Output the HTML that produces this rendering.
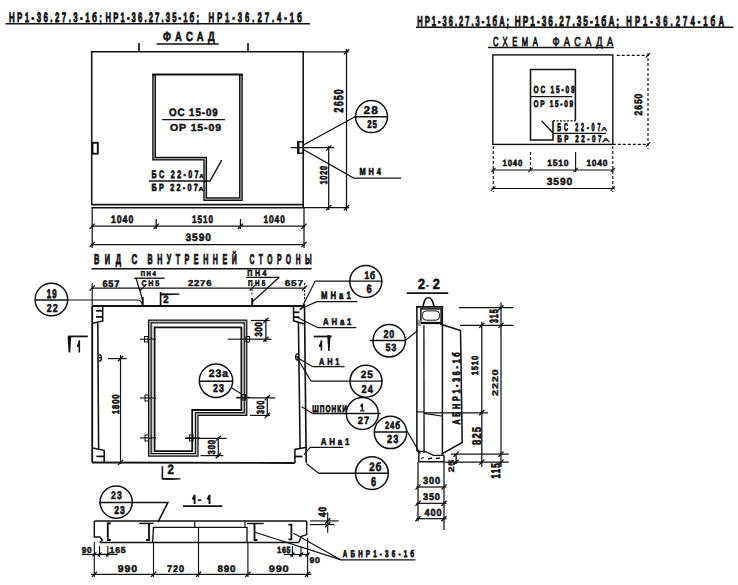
<!DOCTYPE html>
<html><head><meta charset="utf-8"><style>
html,body{margin:0;padding:0;background:#fff;}
svg{display:block;}
svg text{text-rendering:geometricPrecision;font-family:"Liberation Sans",sans-serif;fill:#111;stroke:#111;stroke-width:0.4px;}
</style></head><body>
<svg width="738" height="585" viewBox="0 0 738 585">
<g fill="none" stroke="#111" stroke-linecap="butt" stroke-linejoin="miter">
<text style="stroke-width:0.86px" transform="translate(8.9,21.5) scale(0.585,1)" font-size="13.55" textLength="159.1" lengthAdjust="spacing" font-weight="bold">НР1-36.27.3-1б;</text>
<text style="stroke-width:0.88px" transform="translate(105.6,21.5) scale(0.566,1)" font-size="13.55" textLength="165.1" lengthAdjust="spacing" font-weight="bold">НР1-36.27.35-1б;</text>
<text style="stroke-width:0.87px" transform="translate(208.4,21.5) scale(0.577,1)" font-size="13.55" textLength="162.0" lengthAdjust="spacing" font-weight="bold">НР1-36.27.4-1б</text>
<polyline points="5.5,23.8 310.0,23.8" stroke-width="1.55"/>
<text style="stroke-width:0.71px" transform="translate(163.0,41.0) scale(0.708,1)" font-size="13.27" textLength="73.2" lengthAdjust="spacing" font-weight="bold">ФАСАД</text>
<polyline points="156.6,44.0 218.6,44.0" stroke-width="1.65"/>
<polyline points="91.7,205.0 91.7,51.8 303.2,51.8 303.2,207.8" stroke-width="1.55"/>
<polyline points="91.7,204.6 303.2,204.6" stroke-width="1.55"/>
<polyline points="91.7,207.8 303.2,207.8" stroke-width="1.55"/>
<polyline points="139.0,43.0 139.0,52.0" stroke-width="1.65"/>
<polyline points="248.0,43.0 248.0,52.0" stroke-width="1.65"/>
<polyline points="154.1,74.5 154.1,158.7 205.2,158.7 205.2,199.2 240.9,199.2 240.9,74.5" stroke-width="3.8"/>
<polyline points="154.1,75.5 154.1,158.7 205.2,158.7 205.2,199.2 240.9,199.2 240.9,75.5" stroke-width="1.3" stroke="#999"/>
<polyline points="152.2,74.5 242.8,74.5" stroke-width="1.80"/>
<rect x="92.5" y="142.8" width="5.3" height="10.9" stroke-width="1.9"/>
<rect x="297.8" y="141.8" width="5.4" height="11.4" stroke-width="1.4"/>
<polyline points="298.3,142.0 298.3,153.0" stroke-width="2.35"/>
<polyline points="290.6,147.6 334.0,147.6" stroke-width="1.45"/>
<text style="stroke-width:0.55px" transform="translate(169.0,116.0) scale(0.906,1)" font-size="10.75" textLength="53.8" lengthAdjust="spacing" font-weight="bold">ОС 15-09</text>
<polyline points="162.0,119.6 225.0,119.6" stroke-width="1.45"/>
<text style="stroke-width:0.49px" transform="translate(170.0,130.6) scale(1.028,1)" font-size="10.20" textLength="49.6" lengthAdjust="spacing" font-weight="bold">ОР 15-09</text>
<text style="stroke-width:0.76px" transform="translate(151.5,178.4) scale(0.661,1)" font-size="10.89" textLength="71.2" lengthAdjust="spacing" font-weight="bold">БС 22-07</text>
<text style="stroke-width:0.50px" transform="translate(199.2,178.4) scale(0.991,1)" font-size="6.01" textLength="4.3" lengthAdjust="spacing" font-weight="bold">А</text>
<polyline points="148.9,181.0 210.0,181.0 221.7,160.1" stroke-width="1.35"/>
<text style="stroke-width:0.71px" transform="translate(151.5,191.0) scale(0.705,1)" font-size="10.34" textLength="65.7" lengthAdjust="spacing" font-weight="bold">БР 22-07</text>
<text style="stroke-width:0.43px" transform="translate(198.5,191.0) scale(1.153,1)" font-size="6.01" textLength="4.3" lengthAdjust="spacing" font-weight="bold">А</text>
<polyline points="303.0,51.8 348.5,51.8" stroke-width="1.25"/>
<polyline points="346.5,49.0 346.5,211.0" stroke-width="1.25"/>
<polyline points="303.0,207.6 349.0,207.6" stroke-width="1.25"/>
<text style="stroke-width:0.72px" transform="translate(343.0,112.4) rotate(-90) scale(0.696,1)" font-size="12.85" textLength="33.3" lengthAdjust="spacing" font-weight="bold">2650</text>
<polyline points="328.7,146.0 328.7,210.0" stroke-width="1.25"/>
<text style="stroke-width:0.70px" transform="translate(326.7,184.6) rotate(-90) scale(0.716,1)" font-size="10.06" textLength="26.0" lengthAdjust="spacing" font-weight="bold">1020</text>
<circle cx="371.5" cy="116.6" r="16" stroke-width="1.5"/>
<polyline points="355.4,116.8 387.6,116.8" stroke-width="1.55"/>
<text style="stroke-width:0.47px" transform="translate(363.6,114.2) scale(1.059,1)" font-size="11.31" textLength="13.5" lengthAdjust="spacing" font-weight="bold">28</text>
<text style="stroke-width:0.71px" transform="translate(367.2,127.9) scale(0.702,1)" font-size="11.31" textLength="14.0" lengthAdjust="spacing" font-weight="bold">25</text>
<polyline points="303.0,145.2 355.4,116.5" stroke-width="1.25"/>
<polyline points="303.0,149.3 353.7,178.0 401.0,178.0" stroke-width="1.25"/>
<text style="stroke-width:0.67px" transform="translate(359.5,175.4) scale(0.741,1)" font-size="10.06" textLength="29.0" lengthAdjust="spacing" font-weight="bold">МН4</text>
<polyline points="91.5,226.2 305.0,226.2" stroke-width="1.25"/>
<polyline points="91.5,244.5 305.0,244.5" stroke-width="1.25"/>
<polyline points="92.2,207.0 92.2,248.0" stroke-width="1.25"/>
<polyline points="304.0,207.0 304.0,248.0" stroke-width="1.25"/>
<polyline points="156.2,219.0 156.2,229.0" stroke-width="1.25"/>
<polyline points="240.5,219.0 240.5,229.0" stroke-width="1.25"/>
<text style="stroke-width:0.62px" transform="translate(111.0,223.3) scale(0.804,1)" font-size="10.89" textLength="27.7" lengthAdjust="spacing" font-weight="bold">1040</text>
<text style="stroke-width:0.67px" transform="translate(192.0,223.3) scale(0.751,1)" font-size="10.89" textLength="28.0" lengthAdjust="spacing" font-weight="bold">1510</text>
<text style="stroke-width:0.66px" transform="translate(263.5,223.3) scale(0.763,1)" font-size="10.89" textLength="27.9" lengthAdjust="spacing" font-weight="bold">1040</text>
<text style="stroke-width:0.53px" transform="translate(185.5,241.0) scale(0.936,1)" font-size="10.89" textLength="27.2" lengthAdjust="spacing" font-weight="bold">3590</text>
<text style="stroke-width:0.90px" transform="translate(417.3,25.5) scale(0.525,1)" font-size="14.25" textLength="174.8" lengthAdjust="spacing" font-weight="bold">НР1-36.27.3-1бА;</text>
<text style="stroke-width:0.87px" transform="translate(514.8,25.5) scale(0.576,1)" font-size="14.25" textLength="181.1" lengthAdjust="spacing" font-weight="bold">НР1-36.27.35-1бА;</text>
<text style="stroke-width:0.90px" transform="translate(626.3,25.5) scale(0.537,1)" font-size="14.25" textLength="181.8" lengthAdjust="spacing" font-weight="bold">НР1-36.274-1бА</text>
<polyline points="416.0,27.3 733.4,27.3" stroke-width="1.55"/>
<text style="stroke-width:0.85px" transform="translate(492.9,45.6) scale(0.589,1)" font-size="12.85" textLength="76.2" lengthAdjust="spacing" font-weight="normal">СХЕМА</text>
<text style="stroke-width:0.70px" transform="translate(552.4,45.6) scale(0.713,1)" font-size="12.85" textLength="85.3" lengthAdjust="spacing" font-weight="normal">ФАСАДА</text>
<polyline points="488.0,47.4 613.7,47.4" stroke-width="1.55"/>
<rect x="492.8" y="54.9" width="120.0" height="89.5" stroke-width="1.4"/>
<polyline points="553.0,120.8 575.4,120.8" stroke-width="1.15" stroke-dasharray="2,1.5"/>
<polyline points="575.4,120.8 575.4,69.5 530.5,69.5 530.5,140.0 553.0,140.0 553.0,120.8" stroke-width="1.55"/>
<text style="stroke-width:0.80px" transform="translate(533.5,93.0) scale(0.628,1)" font-size="10.34" textLength="65.4" lengthAdjust="spacing" font-weight="bold">ОС 15-09</text>
<polyline points="530.5,96.5 572.3,96.5" stroke-width="1.25"/>
<text style="stroke-width:0.74px" transform="translate(533.5,107.0) scale(0.679,1)" font-size="9.50" textLength="58.2" lengthAdjust="spacing" font-weight="bold">ОР 15-09</text>
<text style="stroke-width:0.90px" transform="translate(557.3,131.3) scale(0.473,1)" font-size="11.45" textLength="91.3" lengthAdjust="spacing" font-weight="bold">БС 22-07</text>
<text style="stroke-width:0.33px" transform="translate(601.2,131.3) scale(1.518,1)" font-size="5.73" textLength="3.8" lengthAdjust="spacing" font-weight="normal">А</text>
<polyline points="553.2,133.3 606.0,133.3" stroke-width="1.25"/>
<text style="stroke-width:0.78px" transform="translate(557.3,141.9) scale(0.640,1)" font-size="9.92" textLength="69.0" lengthAdjust="spacing" font-weight="bold">БР 22-07</text>
<text style="stroke-width:0.30px" transform="translate(602.2,141.9) scale(1.959,1)" font-size="5.59" textLength="3.7" lengthAdjust="spacing" font-weight="normal">А</text>
<polyline points="541.5,120.8 552.3,132.3" stroke-width="1.25"/>
<polyline points="616.7,55.3 649.0,55.3" stroke-width="1.15" stroke-dasharray="3,2"/>
<polyline points="648.0,53.0 648.0,149.0" stroke-width="1.15" stroke-dasharray="3,2"/>
<polyline points="612.8,144.4 649.0,144.4" stroke-width="1.15" stroke-dasharray="3,2"/>
<text style="stroke-width:0.63px" transform="translate(641.5,115.4) rotate(-90) scale(0.795,1)" font-size="10.75" textLength="27.4" lengthAdjust="spacing" font-weight="bold">2650</text>
<polyline points="491.5,170.0 614.6,170.0" stroke-width="1.15"/>
<polyline points="491.5,188.5 614.6,188.5" stroke-width="1.15"/>
<polyline points="493.3,146.0 493.3,192.0" stroke-width="1.15" stroke-dasharray="3,2"/>
<polyline points="612.8,146.0 612.8,192.0" stroke-width="1.15" stroke-dasharray="3,2"/>
<polyline points="530.5,152.0 530.5,172.0" stroke-width="1.15" stroke-dasharray="3,2"/>
<polyline points="575.6,152.0 575.6,172.0" stroke-width="1.15"/>
<text style="stroke-width:0.57px" transform="translate(502.6,165.6) scale(0.875,1)" font-size="8.94" textLength="22.5" lengthAdjust="spacing" font-weight="bold">1040</text>
<text style="stroke-width:0.52px" transform="translate(547.2,165.6) scale(0.955,1)" font-size="8.94" textLength="22.3" lengthAdjust="spacing" font-weight="bold">1510</text>
<text style="stroke-width:0.53px" transform="translate(586.4,165.6) scale(0.940,1)" font-size="8.94" textLength="22.3" lengthAdjust="spacing" font-weight="bold">1040</text>
<text style="stroke-width:0.50px" transform="translate(546.7,185.0) scale(0.998,1)" font-size="10.34" textLength="25.7" lengthAdjust="spacing" font-weight="bold">3590</text>
<text style="stroke-width:0.90px" transform="translate(94.0,263.5) scale(0.523,1)" font-size="14.11" textLength="51.6" lengthAdjust="spacing" font-weight="bold">ВИД</text>
<text style="stroke-width:0.89px" transform="translate(131.5,263.5) scale(0.560,1)" font-size="14.11" textLength="10.2" lengthAdjust="spacing" font-weight="bold">С</text>
<text style="stroke-width:0.90px" transform="translate(147.5,263.5) scale(0.502,1)" font-size="14.11" textLength="177.9" lengthAdjust="spacing" font-weight="bold">ВНУТРЕННЕЙ</text>
<text style="stroke-width:0.90px" transform="translate(249.4,263.5) scale(0.477,1)" font-size="14.11" textLength="130.5" lengthAdjust="spacing" font-weight="bold">СТОРОНЫ</text>
<polyline points="91.5,268.7 311.6,268.7" stroke-width="1.65"/>
<polyline points="91.5,288.0 305.5,288.0" stroke-width="1.25"/>
<polyline points="92.2,283.0 92.2,306.0" stroke-width="1.15"/>
<polyline points="304.6,283.0 304.6,306.0" stroke-width="1.15" stroke-dasharray="2,1.5"/>
<text style="stroke-width:0.51px" transform="translate(102.4,286.8) scale(0.976,1)" font-size="9.50" textLength="17.5" lengthAdjust="spacing" font-weight="bold">657</text>
<text style="stroke-width:0.44px" transform="translate(188.0,285.8) scale(1.124,1)" font-size="8.52" textLength="20.9" lengthAdjust="spacing" font-weight="bold">2276</text>
<text style="stroke-width:0.42px" transform="translate(284.7,285.8) scale(1.184,1)" font-size="8.52" textLength="15.5" lengthAdjust="spacing" font-weight="bold">657</text>
<text style="stroke-width:0.58px" transform="translate(140.8,275.8) scale(0.860,1)" font-size="6.98" textLength="17.4" lengthAdjust="spacing" font-weight="bold">ПН4</text>
<polyline points="134.2,278.2 164.6,278.2" stroke-width="1.35"/>
<text style="stroke-width:0.57px" transform="translate(141.5,285.8) scale(0.877,1)" font-size="8.10" textLength="20.2" lengthAdjust="spacing" font-weight="bold">СН5</text>
<polyline points="136.0,278.2 142.7,300.0" stroke-width="1.25"/>
<polyline points="142.7,297.0 142.7,306.0" stroke-width="1.95"/>
<text style="stroke-width:0.62px" transform="translate(247.3,276.3) scale(0.806,1)" font-size="8.80" textLength="23.8" lengthAdjust="spacing" font-weight="bold">ПН4</text>
<polyline points="246.2,277.3 279.2,277.3" stroke-width="1.35"/>
<text style="stroke-width:0.64px" transform="translate(248.1,285.8) scale(0.783,1)" font-size="8.10" textLength="22.1" lengthAdjust="spacing" font-weight="bold">ПН5</text>
<polyline points="279.2,277.3 252.7,301.5" stroke-width="1.25"/>
<polyline points="252.2,298.0 252.2,306.0" stroke-width="1.95"/>
<polyline points="252.0,289.0 252.0,295.0" stroke-width="0.95" stroke-dasharray="2,1.5"/>
<circle cx="51.4" cy="299.5" r="16.3" stroke-width="1.5"/>
<polyline points="35.0,300.0 67.7,300.0" stroke-width="1.55"/>
<text style="stroke-width:0.78px" transform="translate(46.8,298.1) scale(0.639,1)" font-size="12.43" textLength="15.5" lengthAdjust="spacing" font-weight="bold">19</text>
<text style="stroke-width:0.64px" transform="translate(46.8,311.5) scale(0.778,1)" font-size="11.45" textLength="14.0" lengthAdjust="spacing" font-weight="bold">22</text>
<path d="M67.7,300 L137,300 Q141,300 142.7,304.6" stroke-width="1.1"/>
<polyline points="160.6,306.0 160.6,292.0" stroke-width="1.65"/>
<polygon points="160.6,293.2 179.5,293.6 179.5,294.8 160.6,295.4" fill="#111" stroke="none"/>
<text style="stroke-width:0.55px" transform="translate(163.3,303.4) scale(0.915,1)" font-size="10.61" textLength="5.9" lengthAdjust="spacing" font-weight="bold">2</text>
<polyline points="92.2,306.0 305.0,306.0" stroke-width="1.95"/>
<polyline points="92.2,306.0 92.2,462.3" stroke-width="1.85"/>
<polyline points="92.2,462.5 295.0,463.0" stroke-width="1.85"/>
<polyline points="304.5,306.0 306.2,462.7" stroke-width="1.65"/>
<polyline points="97.8,322.5 98.6,448.7" stroke-width="1.55"/>
<polyline points="298.4,322.0 300.1,448.0" stroke-width="1.55"/>
<polyline points="92.7,323.3 102.7,321.0 102.7,306.0" stroke-width="1.55"/>
<polyline points="96.0,310.8 102.7,310.8" stroke-width="1.75"/>
<polyline points="96.0,316.9 102.7,316.9" stroke-width="1.75"/>
<polyline points="92.7,448.0 104.2,450.3 104.2,462.3" stroke-width="1.55"/>
<polyline points="96.3,456.4 104.2,456.4" stroke-width="1.65"/>
<polyline points="293.6,306.0 293.6,320.8 304.6,323.9" stroke-width="1.55"/>
<polyline points="293.6,312.3 299.4,312.3" stroke-width="1.75"/>
<polyline points="293.6,317.1 299.4,317.1" stroke-width="1.75"/>
<polyline points="294.9,463.0 294.9,449.4 306.8,447.3" stroke-width="1.55"/>
<polyline points="294.9,456.5 302.5,456.5" stroke-width="1.75"/>
<path d="M98.8,354.6 C102.3,354.6 102.3,361.2 98.8,361.2 M98.8,357.9 L101.5,357.9" stroke-width="1.3"/>
<path d="M298.6,353.6 C294.6,353.6 294.6,360.2 298.6,360.2 M298.6,356.9 L295.6,356.9" stroke-width="1.3"/>
<polyline points="68.1,336.4 87.8,336.4" stroke-width="1.75"/>
<polygon points="67.6,336.4 71.2,336.4 70.3,352.5 68.6,352.5" fill="#111" stroke="none"/>
<path d="M79.3,340.2 L79.3,352.5 M79.3,341.5 L77.3,347" stroke-width="1.6"/>
<polyline points="313.7,336.5 331.6,336.5" stroke-width="1.75"/>
<polygon points="327.2,335.2 330.6,335.2 329.6,351 328.2,351" fill="#111" stroke="none"/>
<path d="M321.4,340.2 L321.4,350.7 M321.4,341.5 L319.4,347" stroke-width="1.6"/>
<polyline points="162.4,466.3 162.4,478.7 170.0,478.7" stroke-width="1.55"/>
<polygon points="162.4,478 180.5,478.3 180.5,479.6 170,479.9 162.4,479.5" fill="#111" stroke="none"/>
<text style="stroke-width:0.59px" transform="translate(167.6,474.2) scale(0.841,1)" font-size="13.69" textLength="7.6" lengthAdjust="spacing" font-weight="bold">2</text>
<path d="M149.9,321.5 L245.5,321.5 L245.5,414 L196.7,414 L196.7,454.8 L149.9,454.8 Z" stroke-width="3.8"/>
<path d="M149.9,321.5 L245.5,321.5 L245.5,414 L196.7,414 L196.7,454.8 L149.9,454.8 Z" stroke-width="1.4" stroke="#bbb"/>
<path d="M154.6,327.4 L241.4,327.4 L241.4,410 L192.2,410 L192.2,451.1 L154.6,451.1 Z" stroke-width="1.8"/>
<path d="M152.6,325 L152.6,453" stroke-width="1.2" stroke="#ccc"/>
<polyline points="140.0,339.2 156.0,339.2" stroke-width="1.15"/>
<rect x="144.5" y="336.5" width="3.5" height="5.5" stroke-width="1.0"/>
<polyline points="227.8,339.2 250.0,339.2" stroke-width="1.15"/>
<rect x="246" y="336.5" width="3.5" height="5.5" stroke-width="1.0"/>
<polyline points="140.0,398.0 156.0,398.0" stroke-width="1.15"/>
<rect x="145" y="395" width="3.5" height="6.0" stroke-width="1.0"/>
<polyline points="140.0,437.9 156.0,437.9" stroke-width="1.15"/>
<rect x="145" y="435" width="3.5" height="6.0" stroke-width="1.0"/>
<polyline points="185.8,437.9 200.0,437.9" stroke-width="1.15"/>
<rect x="189.5" y="435" width="3.5" height="6.0" stroke-width="1.0"/>
<polyline points="236.7,397.4 250.0,397.4" stroke-width="1.15"/>
<rect x="242" y="394.5" width="3.5" height="5.5" stroke-width="1.0"/>
<polyline points="108.0,358.6 126.7,358.6" stroke-width="1.15"/>
<polyline points="120.5,355.0 120.5,464.0" stroke-width="1.15"/>
<text style="stroke-width:0.63px" transform="translate(118.5,414.0) rotate(-90) scale(0.790,1)" font-size="9.78" textLength="24.9" lengthAdjust="spacing" font-weight="bold">1800</text>
<polyline points="250.9,320.5 269.8,320.5" stroke-width="1.25"/>
<polyline points="250.0,339.2 271.5,339.2" stroke-width="1.25"/>
<polyline points="265.9,318.5 265.9,342.0" stroke-width="1.25"/>
<text style="stroke-width:0.67px" transform="translate(262.2,336.6) rotate(-90) scale(0.744,1)" font-size="10.20" textLength="19.4" lengthAdjust="spacing" font-weight="bold">300</text>
<polyline points="236.1,397.8 275.4,397.8" stroke-width="1.25"/>
<polyline points="250.0,415.4 270.0,415.4" stroke-width="1.25"/>
<polyline points="267.3,396.4 267.3,416.5" stroke-width="1.25"/>
<text style="stroke-width:0.74px" transform="translate(263.5,414.0) rotate(-90) scale(0.680,1)" font-size="10.34" textLength="19.9" lengthAdjust="spacing" font-weight="bold">300</text>
<polyline points="185.0,438.3 226.7,438.3" stroke-width="1.25"/>
<polyline points="200.6,455.6 223.3,455.6" stroke-width="1.25"/>
<polyline points="218.3,437.2 218.3,457.2" stroke-width="1.25"/>
<text style="stroke-width:0.66px" transform="translate(215.0,454.4) rotate(-90) scale(0.755,1)" font-size="10.06" textLength="19.1" lengthAdjust="spacing" font-weight="bold">300</text>
<circle cx="216" cy="380.8" r="16.7" stroke-width="1.5"/>
<polyline points="199.3,381.3 232.7,381.3" stroke-width="1.55"/>
<text style="stroke-width:0.52px" transform="translate(208.7,377.4) scale(0.964,1)" font-size="10.89" textLength="20.1" lengthAdjust="spacing" font-weight="bold">23а</text>
<text style="stroke-width:0.64px" transform="translate(213.1,392.1) scale(0.778,1)" font-size="11.45" textLength="14.0" lengthAdjust="spacing" font-weight="bold">23</text>
<polyline points="231.9,388.0 242.4,394.6" stroke-width="1.15"/>
<circle cx="365.8" cy="281.4" r="16" stroke-width="1.5"/>
<polyline points="315.3,281.1 382.6,281.1" stroke-width="1.25"/>
<polyline points="315.3,281.1 300.5,310.3" stroke-width="1.15"/>
<text style="stroke-width:0.65px" transform="translate(364.5,278.6) scale(0.764,1)" font-size="10.89" textLength="14.0" lengthAdjust="spacing" font-weight="bold">1б</text>
<text style="stroke-width:0.65px" transform="translate(366.4,292.5) scale(0.769,1)" font-size="12.15" textLength="6.8" lengthAdjust="spacing" font-weight="bold">6</text>
<text style="stroke-width:0.68px" transform="translate(321.0,298.6) scale(0.730,1)" font-size="10.61" textLength="40.8" lengthAdjust="spacing" font-weight="bold">МНа1</text>
<polyline points="317.0,301.6 357.5,301.6" stroke-width="1.25"/>
<polyline points="317.0,301.6 299.5,309.2" stroke-width="1.15"/>
<text style="stroke-width:0.62px" transform="translate(323.0,325.2) scale(0.800,1)" font-size="9.78" textLength="35.5" lengthAdjust="spacing" font-weight="bold">АНа1</text>
<polyline points="318.0,327.7 356.3,327.7" stroke-width="1.25"/>
<polyline points="318.0,327.7 297.4,317.4" stroke-width="1.15"/>
<text style="stroke-width:0.66px" transform="translate(319.0,364.6) scale(0.762,1)" font-size="9.78" textLength="26.9" lengthAdjust="spacing" font-weight="bold">АН1</text>
<polyline points="312.8,366.7 344.6,366.7" stroke-width="1.25"/>
<polyline points="312.8,366.7 297.0,357.4" stroke-width="1.15"/>
<circle cx="389.2" cy="340.7" r="16.2" stroke-width="1.5"/>
<polyline points="369.7,340.4 405.6,340.4" stroke-width="1.55"/>
<polyline points="405.6,340.3 417.7,330.5" stroke-width="1.15"/>
<text style="stroke-width:0.64px" transform="translate(383.4,338.1) scale(0.778,1)" font-size="11.45" textLength="14.0" lengthAdjust="spacing" font-weight="bold">20</text>
<text style="stroke-width:0.58px" transform="translate(385.4,351.1) scale(0.858,1)" font-size="10.47" textLength="12.7" lengthAdjust="spacing" font-weight="bold">53</text>
<circle cx="366" cy="381.2" r="16" stroke-width="1.5"/>
<polyline points="311.0,381.1 382.7,381.1" stroke-width="1.25"/>
<polyline points="311.0,381.1 297.5,358.5" stroke-width="1.15"/>
<text style="stroke-width:0.52px" transform="translate(360.8,377.8) scale(0.953,1)" font-size="10.47" textLength="12.6" lengthAdjust="spacing" font-weight="bold">25</text>
<text style="stroke-width:0.62px" transform="translate(361.6,392.8) scale(0.802,1)" font-size="11.45" textLength="14.0" lengthAdjust="spacing" font-weight="bold">24</text>
<circle cx="362.3" cy="413.5" r="16" stroke-width="1.5"/>
<polyline points="312.3,413.5 380.6,413.5" stroke-width="1.55"/>
<polyline points="312.3,413.2 301.6,406.7" stroke-width="1.15"/>
<text style="stroke-width:0.76px" transform="translate(312.3,411.5) scale(0.662,1)" font-size="9.78" textLength="52.4" lengthAdjust="spacing" font-weight="bold">ШПОНКИ</text>
<path d="M362.3,403.4 L362.3,410.1 M362.3,404 L360.6,406.5" stroke-width="1.6"/>
<polyline points="360.0,410.8 364.5,410.8" stroke-width="1.25"/>
<text style="stroke-width:0.56px" transform="translate(357.8,424.4) scale(0.893,1)" font-size="10.47" textLength="12.7" lengthAdjust="spacing" font-weight="bold">27</text>
<circle cx="390.5" cy="432.4" r="16.2" stroke-width="1.5"/>
<polyline points="374.3,432.0 406.7,432.0" stroke-width="1.55"/>
<polyline points="406.7,430.5 420.3,453.6" stroke-width="1.15"/>
<text style="stroke-width:0.70px" transform="translate(384.9,429.0) scale(0.718,1)" font-size="10.61" textLength="20.9" lengthAdjust="spacing" font-weight="bold">24б</text>
<text style="stroke-width:0.63px" transform="translate(387.1,443.3) scale(0.799,1)" font-size="11.59" textLength="14.1" lengthAdjust="spacing" font-weight="bold">23</text>
<text style="stroke-width:0.61px" transform="translate(320.7,445.0) scale(0.816,1)" font-size="9.78" textLength="35.3" lengthAdjust="spacing" font-weight="bold">АНа1</text>
<polyline points="310.0,447.4 343.5,447.4" stroke-width="1.25"/>
<polyline points="310.0,447.4 304.0,454.6" stroke-width="1.15"/>
<circle cx="371.9" cy="473.2" r="16.4" stroke-width="1.5"/>
<polyline points="318.3,473.3 388.3,473.3" stroke-width="1.55"/>
<polyline points="318.3,473.0 306.3,463.5" stroke-width="1.15"/>
<text style="stroke-width:0.63px" transform="translate(369.2,470.5) scale(0.789,1)" font-size="12.15" textLength="15.6" lengthAdjust="spacing" font-weight="bold">2б</text>
<text style="stroke-width:0.70px" transform="translate(370.9,485.5) scale(0.714,1)" font-size="12.85" textLength="7.1" lengthAdjust="spacing" font-weight="bold">6</text>
<text style="stroke-width:0.57px" transform="translate(417.9,288.6) scale(0.871,1)" font-size="14.66" textLength="8.2" lengthAdjust="spacing" font-weight="bold">2</text>
<text style="stroke-width:0.57px" transform="translate(432.8,288.6) scale(0.871,1)" font-size="14.66" textLength="8.2" lengthAdjust="spacing" font-weight="bold">2</text>
<polyline points="426.3,285.9 428.6,285.9" stroke-width="1.65"/>
<polyline points="406.8,293.1 448.2,293.1" stroke-width="1.65"/>
<path d="M423,306.3 C424.5,299.5 425.5,297.8 428.3,297.8 C431,297.8 432.3,299.5 434.1,306.3" stroke-width="1.6"/>
<polyline points="416.0,306.9 443.3,306.9" stroke-width="1.75"/>
<polyline points="416.9,306.9 416.9,451.3" stroke-width="1.55"/>
<polyline points="442.4,306.9 442.4,455.0" stroke-width="1.45"/>
<rect x="420.9" y="308.9" width="20.2" height="13.7" stroke-width="1.5"/>
<rect x="422.6" y="310.9" width="16.8" height="9.3" rx="3.5" stroke-width="1.0"/>
<polyline points="416.9,323.5 442.4,323.5" stroke-width="1.25"/>
<rect x="418" y="320" width="2.8" height="6" fill="#999" stroke="none"/>
<polyline points="440.2,323.9 460.5,330.5 462.2,442.5 441.8,453.9" stroke-width="1.55"/>
<polyline points="423.9,325.2 424.1,453.3" stroke-width="1.35"/>
<polyline points="416.9,411.9 424.0,411.9" stroke-width="1.15"/>
<polyline points="424.0,412.8 488.0,412.8" stroke-width="1.25"/>
<polyline points="424.0,413.4 443.1,416.3" stroke-width="1.15"/>
<polyline points="416.9,451.3 425.3,451.3 433.5,455.3 444.0,455.3" stroke-width="1.35"/>
<polyline points="418.8,451.3 418.8,461.8 444.0,461.8 444.0,455.3" stroke-width="1.45"/>
<path d="M421,458.5 L424,457.5 M428,459 L432,458 M436,458.5 L440,458" stroke-width="1.3"/>
<text style="stroke-width:0.77px" transform="translate(459.8,424.6) rotate(-90) scale(0.652,1)" font-size="10.89" textLength="110.9" lengthAdjust="spacing" font-weight="bold">АБНР1-36-1б</text>
<polyline points="458.9,307.7 513.3,307.7" stroke-width="1.25"/>
<polyline points="460.0,325.3 513.3,325.3" stroke-width="1.25"/>
<polyline points="501.0,302.6 501.0,467.0" stroke-width="1.25"/>
<polyline points="481.8,322.0 481.8,467.0" stroke-width="1.25"/>
<polyline points="450.8,454.2 508.8,454.2" stroke-width="1.25"/>
<polyline points="445.0,462.2 508.8,462.2" stroke-width="1.25"/>
<text style="stroke-width:0.85px" transform="translate(497.5,323.1) rotate(-90) scale(0.589,1)" font-size="11.87" textLength="23.3" lengthAdjust="spacing" font-weight="bold">315</text>
<text style="stroke-width:0.60px" transform="translate(478.4,375.3) rotate(-90) scale(0.840,1)" font-size="9.22" textLength="23.3" lengthAdjust="spacing" font-weight="bold">1510</text>
<text style="stroke-width:0.38px" transform="translate(498.4,395.9) rotate(-90) scale(1.311,1)" font-size="8.38" textLength="20.3" lengthAdjust="spacing" font-weight="bold">2220</text>
<text style="stroke-width:0.67px" transform="translate(480.7,444.9) rotate(-90) scale(0.750,1)" font-size="12.57" textLength="23.9" lengthAdjust="spacing" font-weight="bold">825</text>
<text style="stroke-width:0.79px" transform="translate(499.8,478.4) rotate(-90) scale(0.633,1)" font-size="12.57" textLength="23.7" lengthAdjust="spacing" font-weight="bold">115</text>
<text style="stroke-width:0.36px" transform="translate(453.8,472.4) rotate(-90) scale(1.391,1)" font-size="7.96" textLength="9.3" lengthAdjust="spacing" font-weight="bold">25</text>
<polyline points="456.1,455.0 456.1,464.0" stroke-width="1.35"/>
<polyline points="418.0,462.0 418.0,521.2" stroke-width="1.25"/>
<polyline points="444.0,462.0 444.0,530.0" stroke-width="1.25"/>
<polyline points="416.4,487.0 446.5,487.0" stroke-width="1.25"/>
<polyline points="416.4,503.3 446.5,503.3" stroke-width="1.25"/>
<polyline points="416.4,518.7 446.5,518.7" stroke-width="1.25"/>
<text style="stroke-width:0.55px" transform="translate(422.9,483.8) scale(0.902,1)" font-size="10.20" textLength="19.0" lengthAdjust="spacing" font-weight="bold">300</text>
<text style="stroke-width:0.53px" transform="translate(422.9,499.7) scale(0.945,1)" font-size="9.78" textLength="18.1" lengthAdjust="spacing" font-weight="bold">350</text>
<text style="stroke-width:0.55px" transform="translate(424.5,515.5) scale(0.902,1)" font-size="10.20" textLength="19.0" lengthAdjust="spacing" font-weight="bold">400</text>
<path d="M194.6,494.7 L194.6,503.9 M194.6,495.5 L192.6,499.5 M209.5,494.7 L209.5,503.9 M209.5,495.5 L207.5,499.5" stroke-width="1.9"/>
<polyline points="198.0,500.2 201.2,500.2" stroke-width="1.65"/>
<polyline points="183.0,506.1 222.3,506.1" stroke-width="1.65"/>
<circle cx="116.2" cy="502.2" r="16.1" stroke-width="1.5"/>
<polyline points="98.8,502.4 167.9,502.4 158.0,522.2" stroke-width="1.55"/>
<text style="stroke-width:0.64px" transform="translate(111.1,499.1) scale(0.786,1)" font-size="11.03" textLength="13.5" lengthAdjust="spacing" font-weight="bold">23</text>
<text style="stroke-width:0.66px" transform="translate(114.2,513.8) scale(0.755,1)" font-size="11.45" textLength="14.0" lengthAdjust="spacing" font-weight="bold">23</text>
<polyline points="94.3,520.9 306.7,520.9" stroke-width="1.55"/>
<polyline points="94.3,520.9 94.3,537.0 99.7,537.0 102.4,540.0 99.7,542.4" stroke-width="1.45"/>
<polyline points="99.7,542.4 299.0,542.4" stroke-width="1.55"/>
<polyline points="306.7,520.9 306.7,534.6 301.0,536.5 299.0,542.2" stroke-width="1.45"/>
<polyline points="157.1,527.3 244.0,527.3" stroke-width="1.35"/>
<polyline points="152.6,542.0 153.5,527.5 157.1,527.3" stroke-width="1.35"/>
<polyline points="247.0,542.0 247.0,527.3 244.0,527.3" stroke-width="1.35"/>
<polyline points="198.5,527.3 198.5,542.0" stroke-width="1.15"/>
<polyline points="194.8,521.0 194.8,527.3" stroke-width="1.15"/>
<polyline points="245.0,521.0 245.0,527.3" stroke-width="1.15"/>
<polyline points="110.8,523.2 107.8,523.2 107.8,540.0 110.8,540.0" stroke-width="1.85"/>
<polyline points="146.0,540.0 149.0,540.0 149.0,523.4" stroke-width="1.85"/>
<polyline points="139.2,523.4 153.5,523.4" stroke-width="1.45"/>
<polyline points="257.5,540.0 254.5,540.0 254.5,523.5" stroke-width="1.85"/>
<polyline points="247.0,523.5 263.7,523.5" stroke-width="1.45"/>
<polyline points="288.4,524.6 291.4,524.6 291.4,539.3 288.4,539.3" stroke-width="1.85"/>
<polyline points="255.0,532.2 341.1,559.9" stroke-width="1.15"/>
<polyline points="293.5,533.3 341.1,559.9" stroke-width="1.15"/>
<polyline points="341.1,559.9 415.4,559.9" stroke-width="1.25"/>
<text style="stroke-width:0.78px" transform="translate(342.8,557.2) scale(0.644,1)" font-size="9.78" textLength="110.9" lengthAdjust="spacing" font-weight="bold">АБНР1-36-1б</text>
<polyline points="310.0,520.9 338.8,520.9" stroke-width="1.15"/>
<polyline points="310.0,524.6 334.6,524.6" stroke-width="1.15"/>
<polyline points="327.7,512.3 327.7,532.7" stroke-width="1.15"/>
<text style="stroke-width:0.66px" transform="translate(326.2,516.9) rotate(-90) scale(0.759,1)" font-size="10.75" textLength="13.2" lengthAdjust="spacing" font-weight="bold">40</text>
<polyline points="81.8,554.4 117.7,554.4" stroke-width="1.15"/>
<polyline points="284.0,554.5 309.0,554.5" stroke-width="1.15"/>
<polyline points="94.3,542.0 94.3,577.0" stroke-width="1.15"/>
<polyline points="99.5,546.0 99.5,557.0" stroke-width="1.15"/>
<polyline points="107.8,546.0 107.8,557.0" stroke-width="1.15"/>
<polyline points="153.5,542.0 153.5,577.0" stroke-width="1.15"/>
<polyline points="198.5,542.0 198.5,577.0" stroke-width="1.15"/>
<polyline points="247.9,542.0 247.9,577.0" stroke-width="1.15"/>
<polyline points="307.6,537.9 307.6,577.5" stroke-width="1.15"/>
<polyline points="292.4,546.0 292.4,557.0" stroke-width="1.15"/>
<polyline points="301.0,546.0 301.0,557.0" stroke-width="1.15"/>
<polyline points="91.0,574.3 311.4,574.3" stroke-width="1.25"/>
<text style="stroke-width:0.53px" transform="translate(81.8,552.6) scale(0.951,1)" font-size="8.66" textLength="10.4" lengthAdjust="spacing" font-weight="bold">90</text>
<text style="stroke-width:0.49px" transform="translate(109.6,552.6) scale(1.011,1)" font-size="8.66" textLength="15.9" lengthAdjust="spacing" font-weight="bold">165</text>
<text style="stroke-width:0.64px" transform="translate(277.3,552.6) scale(0.782,1)" font-size="8.94" textLength="16.9" lengthAdjust="spacing" font-weight="bold">165</text>
<text style="stroke-width:0.47px" transform="translate(309.5,563.2) scale(1.068,1)" font-size="8.24" textLength="9.8" lengthAdjust="spacing" font-weight="bold">90</text>
<text style="stroke-width:0.46px" transform="translate(117.7,571.5) scale(1.080,1)" font-size="9.78" textLength="17.9" lengthAdjust="spacing" font-weight="bold">990</text>
<text style="stroke-width:0.53px" transform="translate(167.0,571.5) scale(0.939,1)" font-size="9.78" textLength="18.1" lengthAdjust="spacing" font-weight="bold">720</text>
<text style="stroke-width:0.48px" transform="translate(217.5,571.6) scale(1.033,1)" font-size="9.50" textLength="17.4" lengthAdjust="spacing" font-weight="bold">890</text>
<text style="stroke-width:0.43px" transform="translate(268.7,571.6) scale(1.159,1)" font-size="9.50" textLength="17.3" lengthAdjust="spacing" font-weight="bold">990</text>
<line x1="89.6" y1="228.8" x2="94.8" y2="223.6" stroke-width="1.3"/>
<line x1="153.6" y1="228.8" x2="158.8" y2="223.6" stroke-width="1.3"/>
<line x1="237.9" y1="228.8" x2="243.1" y2="223.6" stroke-width="1.3"/>
<line x1="301.4" y1="228.8" x2="306.6" y2="223.6" stroke-width="1.3"/>
<line x1="89.6" y1="247.1" x2="94.8" y2="241.9" stroke-width="1.3"/>
<line x1="301.4" y1="247.1" x2="306.6" y2="241.9" stroke-width="1.3"/>
<line x1="343.9" y1="54.4" x2="349.1" y2="49.2" stroke-width="1.3"/>
<line x1="343.9" y1="210.2" x2="349.1" y2="205.0" stroke-width="1.3"/>
<line x1="326.1" y1="150.6" x2="331.3" y2="145.4" stroke-width="1.3"/>
<line x1="326.1" y1="210.2" x2="331.3" y2="205.0" stroke-width="1.3"/>
<line x1="491.1" y1="172.2" x2="495.5" y2="167.8" stroke-width="1.1"/>
<line x1="528.3" y1="172.2" x2="532.7" y2="167.8" stroke-width="1.1"/>
<line x1="573.4" y1="172.2" x2="577.8" y2="167.8" stroke-width="1.1"/>
<line x1="610.6" y1="172.2" x2="615.0" y2="167.8" stroke-width="1.1"/>
<line x1="491.1" y1="190.7" x2="495.5" y2="186.3" stroke-width="1.1"/>
<line x1="610.6" y1="190.7" x2="615.0" y2="186.3" stroke-width="1.1"/>
<line x1="645.8" y1="57.5" x2="650.2" y2="53.1" stroke-width="1.1"/>
<line x1="645.8" y1="146.6" x2="650.2" y2="142.2" stroke-width="1.1"/>
<line x1="89.6" y1="290.6" x2="94.8" y2="285.4" stroke-width="1.3"/>
<line x1="140.1" y1="290.6" x2="145.3" y2="285.4" stroke-width="1.3"/>
<line x1="249.6" y1="290.6" x2="254.8" y2="285.4" stroke-width="1.3"/>
<line x1="302.0" y1="290.6" x2="307.2" y2="285.4" stroke-width="1.3"/>
<line x1="117.9" y1="361.2" x2="123.1" y2="356.0" stroke-width="1.3"/>
<line x1="117.9" y1="465.1" x2="123.1" y2="459.9" stroke-width="1.3"/>
<line x1="263.3" y1="323.1" x2="268.5" y2="317.9" stroke-width="1.3"/>
<line x1="263.3" y1="341.8" x2="268.5" y2="336.6" stroke-width="1.3"/>
<line x1="264.7" y1="400.4" x2="269.9" y2="395.2" stroke-width="1.3"/>
<line x1="264.7" y1="418.0" x2="269.9" y2="412.8" stroke-width="1.3"/>
<line x1="215.7" y1="440.9" x2="220.9" y2="435.7" stroke-width="1.3"/>
<line x1="215.7" y1="458.2" x2="220.9" y2="453.0" stroke-width="1.3"/>
<line x1="498.4" y1="310.3" x2="503.6" y2="305.1" stroke-width="1.3"/>
<line x1="498.4" y1="327.9" x2="503.6" y2="322.7" stroke-width="1.3"/>
<line x1="498.4" y1="456.8" x2="503.6" y2="451.6" stroke-width="1.3"/>
<line x1="498.4" y1="464.8" x2="503.6" y2="459.6" stroke-width="1.3"/>
<line x1="479.2" y1="327.9" x2="484.4" y2="322.7" stroke-width="1.3"/>
<line x1="479.2" y1="415.2" x2="484.4" y2="410.0" stroke-width="1.3"/>
<line x1="479.2" y1="464.8" x2="484.4" y2="459.6" stroke-width="1.3"/>
<line x1="453.5" y1="456.8" x2="458.7" y2="451.6" stroke-width="1.3"/>
<line x1="453.5" y1="464.8" x2="458.7" y2="459.6" stroke-width="1.3"/>
<line x1="415.4" y1="489.6" x2="420.6" y2="484.4" stroke-width="1.3"/>
<line x1="441.4" y1="489.6" x2="446.6" y2="484.4" stroke-width="1.3"/>
<line x1="415.4" y1="505.9" x2="420.6" y2="500.7" stroke-width="1.3"/>
<line x1="441.4" y1="505.9" x2="446.6" y2="500.7" stroke-width="1.3"/>
<line x1="415.4" y1="521.3" x2="420.6" y2="516.1" stroke-width="1.3"/>
<line x1="441.4" y1="521.3" x2="446.6" y2="516.1" stroke-width="1.3"/>
<line x1="92.3" y1="556.4" x2="96.3" y2="552.4" stroke-width="1.3"/>
<line x1="97.5" y1="556.4" x2="101.5" y2="552.4" stroke-width="1.3"/>
<line x1="105.8" y1="556.4" x2="109.8" y2="552.4" stroke-width="1.3"/>
<line x1="290.4" y1="556.5" x2="294.4" y2="552.5" stroke-width="1.3"/>
<line x1="299.0" y1="556.5" x2="303.0" y2="552.5" stroke-width="1.3"/>
<line x1="305.6" y1="556.5" x2="309.6" y2="552.5" stroke-width="1.3"/>
<line x1="91.7" y1="576.9" x2="96.9" y2="571.7" stroke-width="1.3"/>
<line x1="150.9" y1="576.9" x2="156.1" y2="571.7" stroke-width="1.3"/>
<line x1="195.9" y1="576.9" x2="201.1" y2="571.7" stroke-width="1.3"/>
<line x1="245.3" y1="576.9" x2="250.5" y2="571.7" stroke-width="1.3"/>
<line x1="305.0" y1="576.9" x2="310.2" y2="571.7" stroke-width="1.3"/>
<line x1="325.1" y1="523.5" x2="330.3" y2="518.3" stroke-width="1.3"/>
<line x1="325.1" y1="527.2" x2="330.3" y2="522.0" stroke-width="1.3"/>
</g>
</svg>
</body></html>
